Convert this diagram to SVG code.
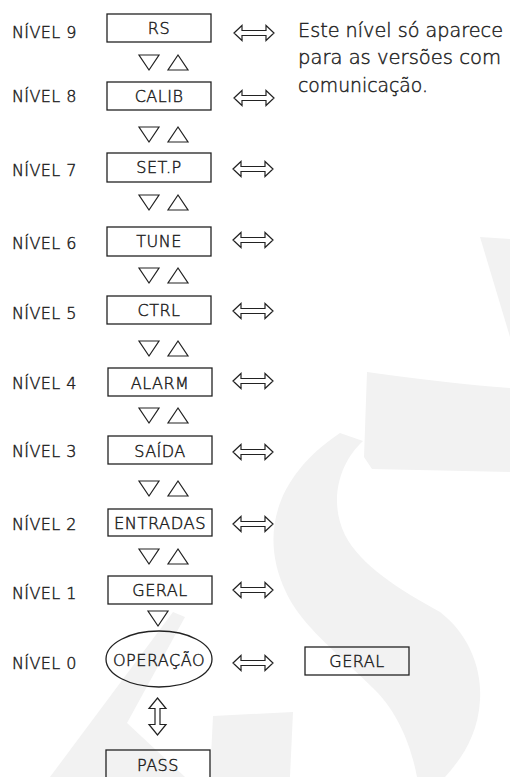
<svg xmlns="http://www.w3.org/2000/svg" width="510" height="777" viewBox="0 0 510 777">
<defs>
<style>
.wm{fill:#f2f2f2;stroke:none}
.box{fill:none;stroke:#222;stroke-width:1.3}
.tri{fill:none;stroke:#222;stroke-width:1.2;stroke-linejoin:miter}
.dar{fill:#fff;stroke:#222;stroke-width:1.2;stroke-linejoin:miter}
.t{font-family:"DejaVu Sans","Liberation Sans",sans-serif;font-weight:200;fill:#222;stroke:#222;stroke-width:0.45}
.lbl{font-size:16px;letter-spacing:0.4px}
.bl{font-size:16px;text-anchor:middle;letter-spacing:0.5px}
.note{font-size:20px}
</style>
<path id="hx" d="M-20,0 L-12,-7.5 L-12,-2.5 L12,-2.5 L12,-7.5 L20,0 L12,7.5 L12,2.5 L-12,2.5 L-12,7.5 Z"/>
<path id="dn" d="M0,0 h20 l-10,15 z"/>
<path id="up" d="M0,15 h20 l-10,-15 z"/>
</defs>
<rect width="510" height="777" fill="#fff"/>
<g id="watermark">
<path class="wm" d="M480,237 L510,239 L510,337 Z"/>
<path class="wm" d="M367,372 Q445,383 510,388 L510,472 L372,469 L364,457 Z"/>
<path class="wm" d="M340,433 L363,441 C340,462 328,500 345,535 C360,565 400,590 440,612 C470,635 482,670 480,700 C478,735 462,758 445,777 L417,777 C412,750 400,715 375,690 C340,655 300,625 285,590 C262,540 270,480 340,433 Z"/>
<path class="wm" d="M50,777 L173,612 L185,617 L127,723 L185,777 Z"/>
<path class="wm" d="M213,716 L293,712 L290,777 L210,777 Z"/>
</g>
<g id="levels">
<text class="t lbl" x="12" y="38">NÍVEL 9</text>
<text class="t lbl" x="12" y="102">NÍVEL 8</text>
<text class="t lbl" x="12" y="176">NÍVEL 7</text>
<text class="t lbl" x="12" y="249">NÍVEL 6</text>
<text class="t lbl" x="12" y="319">NÍVEL 5</text>
<text class="t lbl" x="12" y="389">NÍVEL 4</text>
<text class="t lbl" x="12" y="457">NÍVEL 3</text>
<text class="t lbl" x="12" y="530">NÍVEL 2</text>
<text class="t lbl" x="12" y="599">NÍVEL 1</text>
<text class="t lbl" x="12" y="669">NÍVEL 0</text>
</g>
<g id="node-rs"><rect class="box" x="107" y="14" width="104" height="28"/><text class="t bl" x="159" y="34">RS</text></g>
<g id="node-calib"><rect class="box" x="107" y="82" width="104" height="28"/><text class="t bl" x="159" y="102">CALIB</text></g>
<g id="node-setp"><rect class="box" x="107" y="153" width="104" height="29"/><text class="t bl" x="159" y="173">SET.P</text></g>
<g id="node-tune"><rect class="box" x="107" y="227" width="104" height="29"/><text class="t bl" x="159" y="247">TUNE</text></g>
<g id="node-ctrl"><rect class="box" x="107" y="296" width="104" height="28"/><text class="t bl" x="159" y="316">CTRL</text></g>
<g id="node-alarm"><rect class="box" x="108" y="368" width="104" height="28"/><text class="t bl" x="160" y="389">ALARM</text></g>
<g id="node-saida"><rect class="box" x="108" y="436" width="104" height="28"/><text class="t bl" x="160" y="457">SAÍDA</text></g>
<g id="node-entradas"><rect class="box" x="108" y="509" width="104" height="27"/><text class="t bl" x="160" y="529" textLength="92" lengthAdjust="spacingAndGlyphs">ENTRADAS</text></g>
<g id="node-geral1"><rect class="box" x="108" y="576" width="104" height="28"/><text class="t bl" x="160" y="596">GERAL</text></g>
<g id="node-operacao"><ellipse class="box" cx="159" cy="659" rx="53" ry="28"/><text class="t bl" x="159" y="666" textLength="92" lengthAdjust="spacingAndGlyphs">OPERAÇÃO</text></g>
<g id="node-geral0"><rect class="box" x="305" y="647" width="104" height="28"/><text class="t bl" x="357" y="667">GERAL</text></g>
<g id="node-pass"><rect class="box" x="106" y="750" width="104" height="32"/><text class="t bl" x="158" y="771">PASS</text></g>
<g id="note">
<text class="t note" x="298" y="37" textLength="205" lengthAdjust="spacingAndGlyphs">Este nível só aparece</text>
<text class="t note" x="298" y="64" textLength="203" lengthAdjust="spacingAndGlyphs">para as versões com</text>
<text class="t note" x="298" y="92" textLength="130" lengthAdjust="spacingAndGlyphs">comunicação.</text>
</g>
<g id="connectors">
<use href="#dn" class="tri" x="139" y="55"/><use href="#up" class="tri" x="168" y="55"/>
<use href="#dn" class="tri" x="139" y="127"/><use href="#up" class="tri" x="168" y="127"/>
<use href="#dn" class="tri" x="139" y="195"/><use href="#up" class="tri" x="168" y="195"/>
<use href="#dn" class="tri" x="139" y="268"/><use href="#up" class="tri" x="168" y="268"/>
<use href="#dn" class="tri" x="139" y="341"/><use href="#up" class="tri" x="168" y="341"/>
<use href="#dn" class="tri" x="139" y="408"/><use href="#up" class="tri" x="168" y="408"/>
<use href="#dn" class="tri" x="139" y="481"/><use href="#up" class="tri" x="168" y="481"/>
<use href="#dn" class="tri" x="139" y="549"/><use href="#up" class="tri" x="168" y="549"/>
<use href="#dn" class="tri" x="148" y="611"/>
<use href="#hx" class="dar" x="254" y="33"/>
<use href="#hx" class="dar" x="254" y="98"/>
<use href="#hx" class="dar" x="253" y="169"/>
<use href="#hx" class="dar" x="253" y="240"/>
<use href="#hx" class="dar" x="253" y="311"/>
<use href="#hx" class="dar" x="253" y="381"/>
<use href="#hx" class="dar" x="253" y="452"/>
<use href="#hx" class="dar" x="253" y="524"/>
<use href="#hx" class="dar" x="253" y="590"/>
<use href="#hx" class="dar" x="253" y="663"/>
<path class="dar" d="M157.5,698 L166,708.5 L160,708.5 L160,724.5 L166,724.5 L157.5,735 L149,724.5 L155,724.5 L155,708.5 L149,708.5 Z"/>
</g>
</svg>
